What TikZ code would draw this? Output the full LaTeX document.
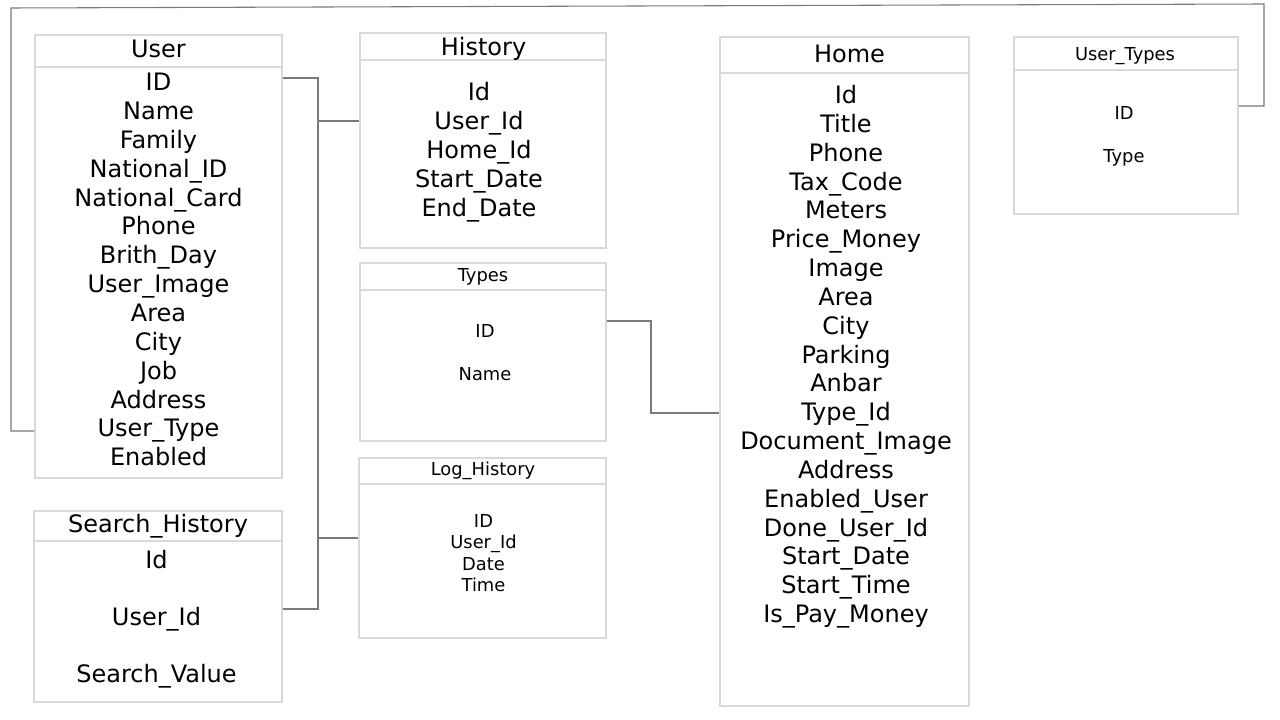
\documentclass[tikz,border=0pt]{standalone}
\usepackage{fontspec}
\setmainfont{DejaVu Sans}
\definecolor{boxgray}{HTML}{D9D9D9}
\definecolor{linegray}{HTML}{7A7A7A}
\tikzset{
  tblbox/.style={draw=boxgray, line width=1pt, fill=white, inner sep=0, rectangle},
  hdr/.style={draw=boxgray, line width=1pt},
  conn/.style={draw=linegray, line width=0.8pt},
  bigtxt/.style={font=\fontsize{18}{21}\selectfont, anchor=base, yshift=-6.5pt, inner sep=0},
  smalltxt/.style={font=\fontsize{13.4}{16}\selectfont, anchor=base, yshift=-4.8pt, inner sep=0},
}
\newcommand{\dbtable}[6]{%
  \node[tblbox, minimum width={(#4-#2)*0.75pt}, minimum height={(#5-#3)*0.75pt}] (#1) at ({(#2+#4)/2},{(#3+#5)/2}) {};
  \draw[hdr] (#2,#6) -- (#4,#6);
}
\begin{document}
\begin{tikzpicture}[x=0.75pt,y=-0.75pt]
\useasboundingbox[fill=white] (0,0) rectangle (1280,720);
% tables
\dbtable{user}{35}{35}{282}{478}{67}
\dbtable{history}{360}{33}{606}{248}{60}
\dbtable{types}{360}{263}{606}{441}{290}
\dbtable{logh}{359}{458}{606}{638}{484}
\dbtable{search}{34}{511}{282}{702}{541}
\dbtable{home}{720}{37}{969}{706}{73}
\dbtable{usertypes}{1014}{37}{1238}{214}{70}
% titles
\node[bigtxt] (user-title) at (158.5,49) {User};
\node[bigtxt] (history-title) at (483.5,47) {History};
\node[smalltxt] (types-title) at (483,275) {Types};
\node[smalltxt] (logh-title) at (483,469) {Log\_History};
\node[bigtxt] (search-title) at (158,524) {Search\_History};
\node[bigtxt] (home-title) at (849.5,54) {Home};
\node[smalltxt] (usertypes-title) at (1125,54) {User\_Types};
% fields
\foreach \t [count=\i from 0] in {ID,Name,Family,National\_ID,National\_Card,Phone,Brith\_Day,User\_Image,Area,City,Job,Address,User\_Type,Enabled}
  \node[bigtxt] (user-f\i) at (158.5,{82+28.85*\i}) {\t};
\foreach \t [count=\i from 0] in {Id,User\_Id,Home\_Id,Start\_Date,End\_Date}
  \node[bigtxt] (history-f\i) at (479,{92+29*\i}) {\t};
\foreach \t [count=\i from 0] in {ID,Name}
  \node[smalltxt] (types-f\i) at (485,{331+43*\i}) {\t};
\foreach \t [count=\i from 0] in {ID,User\_Id,Date,Time}
  \node[smalltxt] (logh-f\i) at (483.5,{521+21.4*\i}) {\t};
\foreach \t [count=\i from 0] in {Id,User\_Id,Search\_Value}
  \node[bigtxt] (search-f\i) at (156.5,{560+57*\i}) {\t};
\foreach \t [count=\i from 0] in {Id,Title,Phone,Tax\_Code,Meters,Price\_Money,Image,Area,City,Parking,Anbar,Type\_Id,Document\_Image,Address,Enabled\_User,Done\_User\_Id,Start\_Date,Start\_Time,Is\_Pay\_Money}
  \node[bigtxt] (home-f\i) at (846,{95+28.83*\i}) {\t};
\foreach \t [count=\i from 0] in {ID,Type}
  \node[smalltxt] (usertypes-f\i) at (1124,{113+43*\i}) {\t};
% connectors
\draw[conn] (user.east |- 0,78) -- (318,78) -- (318,538) -- (logh.west |- 0,538);
\draw[conn] (search.east |- 0,609) -- (318,609) -- (318,121) -- (history.west |- 0,121);
\draw[conn] (types.east |- 0,321) -- (651,321) -- (651,413) -- (home.west |- 0,413);
\draw[conn] (user.west |- 0,431) -- (11,431) -- (11,8) -- (1264,4) -- (1264,106) -- (usertypes.east |- 0,106);
\end{tikzpicture}
\end{document}
